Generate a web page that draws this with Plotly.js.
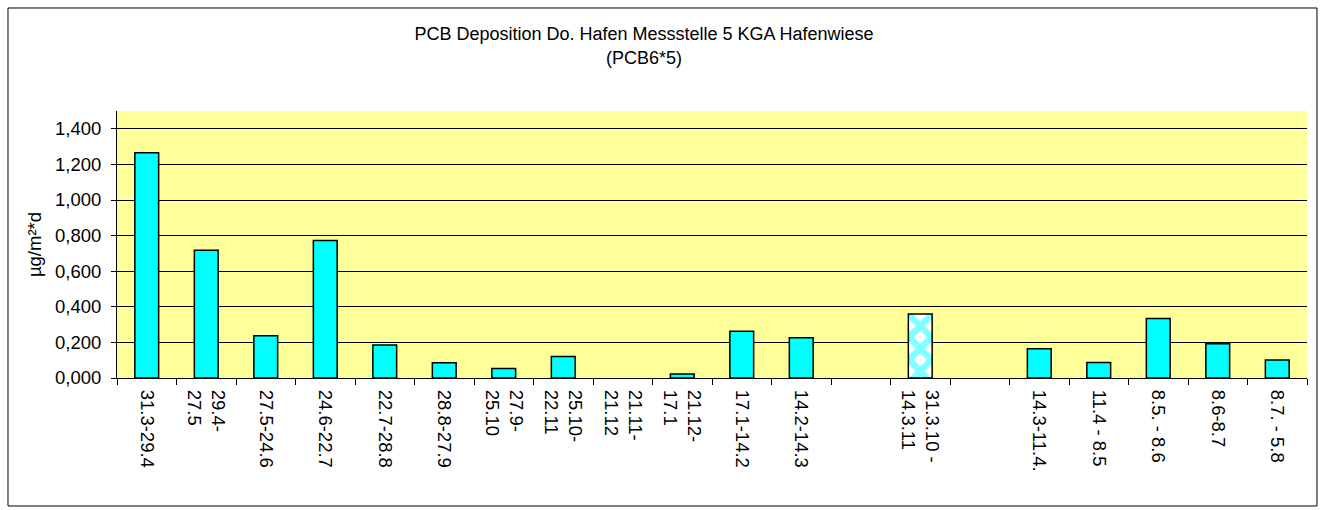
<!DOCTYPE html>
<html>
<head>
<meta charset="utf-8">
<script src="https://cdn.plot.ly/plotly-3.0.1.min.js"></script>
<style>html,body{margin:0;padding:0;background:#fff;}#chart{width:1324px;height:510px;}</style>
</head>
<body>
<div id="chart"></div>
<script>
const categories = [
  "31.3-29.4", "29.4-<br>27.5", "27.5-24.6", "24.6-22.7", "22.7-28.8",
  "28.8-27.9", "27.9-<br>25.10", "25.10-<br>22.11", "21.11-<br>21.12", "21.12-<br>17.1",
  "17.1-14.2", "14.2-14.3", " ", "31.3.10 -<br>14.3.11", "  ",
  "14.3-11.4.", "11.4 - 8.5", "8.5. - 8.6", "8.6-8.7", "8.7. - 5.8"
];
const values = [
  1.265, 0.718, 0.238, 0.772, 0.186,
  0.086, 0.053, 0.121, null, 0.022,
  0.263, 0.226, null, 0.360, null,
  0.164, 0.087, 0.334, 0.192, 0.101
];
const patternedCategory = "31.3.10 -<br>14.3.11";
const chartTitle = "PCB Deposition Do. Hafen Messstelle 5 KGA Hafenwiese<br>(PCB6*5)";
const yTitle = "µg/m²*d";

const FONT = "Liberation Sans, Arial, sans-serif";
const FS = 18.5;

const trace = {
  type: "bar",
  x: categories,
  y: values,
  marker: {
    color: "#00FFFF",
    line: {color: "#000", width: 1.5},
    pattern: {
      shape: categories.map(c => c === patternedCategory ? "x" : ""),
      fgcolor: "#00FFFF",
      bgcolor: "#FFFFFF",
      fillmode: "overlay",
      size: 16,
      solidity: 0.65
    }
  },
  hoverinfo: "x+y"
};

const layout = {
  width: 1324, height: 510,
  margin: {l: 117, r: 17, t: 111, b: 132},
  paper_bgcolor: "#FFFFFF",
  plot_bgcolor: "#FFFF99",
  separators: ",.",
  bargap: 0.6,
  showlegend: false,
  font: {family: FONT, size: FS, color: "#000"},
  title: {
    text: chartTitle,
    font: {family: FONT, size: 18, color: "#000"},
    x: 0.4864, xanchor: "center",
    yref: "container",
    y: 0.921, yanchor: "top"
  },
  xaxis: {
    type: "category",
    tickson: "boundaries",
    tickangle: 90,
    ticks: "outside", ticklen: 6, tickcolor: "#000", tickwidth: 1,
    ticklabelstandoff: 7,
    showline: true, linecolor: "#000", linewidth: 1,
    showgrid: false,
    tickfont: {family: FONT, size: FS, color: "#000"},
    automargin: false
  },
  yaxis: {
    range: [0, 1.5],
    dtick: 0.2, tick0: 0,
    tickformat: ".3f",
    ticks: "outside", ticklen: 5, tickcolor: "#000", tickwidth: 1,
    ticklabelstandoff: 6,
    showline: true, linecolor: "#000", linewidth: 1,
    showgrid: true, gridcolor: "#000", gridwidth: 1,
    zeroline: false,
    tickfont: {family: FONT, size: FS, color: "#000"},
    title: {text: yTitle, font: {family: FONT, size: FS, color: "#000"}, standoff: 8},
    automargin: false
  },
  shapes: [{
    type: "rect", xref: "paper", yref: "paper",
    x0: -0.0916, x1: 1.0084, y0: -0.4794, y1: 1.3858,
    line: {color: "#000", width: 1}, fillcolor: "rgba(0,0,0,0)", layer: "below"
  }]
};

Plotly.newPlot("chart", [trace], layout, {displayModeBar: false, staticPlot: true});
</script>
</body>
</html>
